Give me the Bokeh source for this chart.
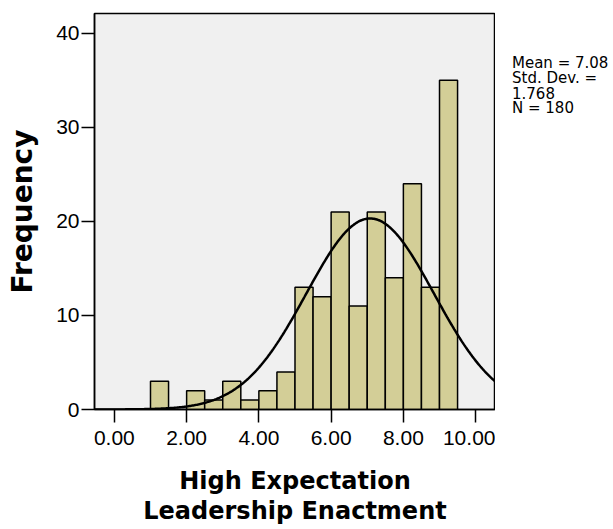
import numpy as np
from bokeh.plotting import figure
from bokeh.layouts import row
from bokeh.models import Range1d, FixedTicker, PrintfTickFormatter
from bokeh.core.properties import value
from bokeh.embed import file_html
from bokeh.resources import INLINE

# Data
bin_lefts = [1.0, 1.5, 2.0, 2.5, 3.0, 3.5, 4.0, 4.5, 5.0, 5.5, 6.0, 6.5, 7.0, 7.5, 8.0, 8.5, 9.0]
counts =    [3,   0,   2,   1,   3,   1,   2,   4,   13,  12,  21,  11,  21,  14,  24,  13,  35]
bin_width = 0.5
mean_val = 7.08
sd_val = 1.768
n_val = 180
x_ticks = [0, 2, 4, 6, 8, 10]
y_ticks = [0, 10, 20, 30, 40]

FONT = "Liberation Sans"
TITLE_FONT = "DejaVu Sans"
Y_MAX = 42.1
FRAME_TOP, FRAME_BOTTOM = 13, 409

p = figure(width=495, height=529, output_backend="svg", toolbar_location=None,
           x_range=Range1d(-0.55, 10.55), y_range=Range1d(0, Y_MAX),
           min_border_left=94, min_border_right=0, min_border_top=FRAME_TOP,
           min_border_bottom=529 - FRAME_BOTTOM)

p.background_fill_color = "#f0f0f0"
p.border_fill_color = "white"
p.outline_line_color = "black"
p.outline_line_width = 1.5
p.grid.visible = False

lefts = np.array(bin_lefts)
p.quad(left=lefts, right=lefts + bin_width, bottom=0, top=counts,
       fill_color="#d3ce97", line_color="black", line_width=1.5)

xs = np.linspace(-0.55, 10.55, 400)
ys = n_val * bin_width * np.exp(-0.5 * ((xs - mean_val) / sd_val) ** 2) / (sd_val * np.sqrt(2 * np.pi))
p.line(xs, ys, line_color="black", line_width=2.5)

for ax in (p.xaxis[0], p.yaxis[0]):
    ax.axis_line_color = "black"
    ax.axis_line_width = 1.5
    ax.major_tick_line_color = "black"
    ax.major_tick_line_width = 1.5
    ax.major_tick_out = 13
    ax.major_tick_in = 0
    ax.minor_tick_line_color = None
    ax.major_label_text_font = FONT
    ax.major_label_text_font_size = "21px"
    ax.major_label_text_color = "black"
    ax.axis_label_text_font = TITLE_FONT
    ax.axis_label_text_font_style = "bold"
    ax.axis_label_text_color = "black"

p.xaxis.ticker = FixedTicker(ticks=x_ticks)
p.xaxis.formatter = PrintfTickFormatter(format="%.2f")
p.xaxis.major_label_standoff = 8
p.xaxis.axis_label = "High Expectation\nLeadership Enactment"
p.xaxis.axis_label_text_font_size = "24px"
p.xaxis.axis_label_text_line_height = 1.1
p.xaxis.axis_label_standoff = 19

p.yaxis.ticker = FixedTicker(ticks=y_ticks)
p.yaxis.major_label_standoff = 2
p.yaxis.axis_label = "Frequency"
p.yaxis.axis_label_text_font_size = "28px"
p.yaxis.axis_label_standoff = 14

# Side panel with the summary statistics (shares the y scale of the main frame)
stats = ["Mean = %.2f" % mean_val, "Std. Dev. =", "%.3f" % sd_val, "N = %d" % n_val]
px_per_unit = (FRAME_BOTTOM - FRAME_TOP) / Y_MAX
baselines_px = [62 + 15 * i for i in range(len(stats))]
s = figure(width=118, height=529, output_backend="svg", toolbar_location=None,
           x_range=Range1d(0, 118), y_range=p.y_range,
           min_border_left=0, min_border_right=0, min_border_top=FRAME_TOP,
           min_border_bottom=529 - FRAME_BOTTOM)
s.axis.visible = False
s.grid.visible = False
s.outline_line_color = None
s.background_fill_color = "white"
s.border_fill_color = "white"
s.text(x=[16.5] * len(stats), y=[(FRAME_BOTTOM - b) / px_per_unit for b in baselines_px], text=stats,
       text_font=value(TITLE_FONT), text_font_size="15px", text_baseline="alphabetic",
       text_color="black")

layout = row(p, s, spacing=0)
open("out.html", "w").write(file_html(layout, INLINE))
